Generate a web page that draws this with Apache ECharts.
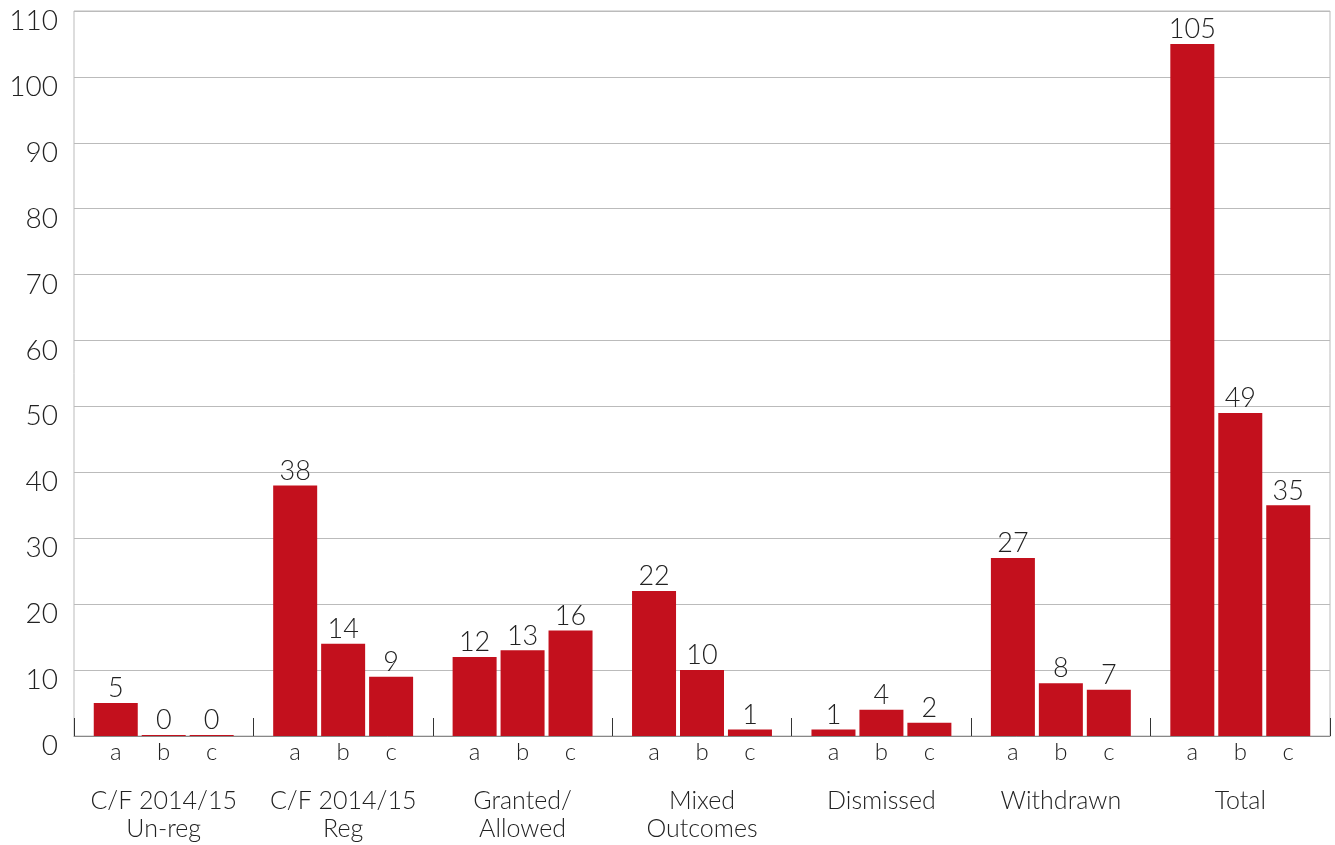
<!DOCTYPE html>
<html>
<head>
<meta charset="utf-8">
<script src="https://cdn.jsdelivr.net/npm/echarts@6/dist/echarts.min.js"></script>
<style>html,body{margin:0;padding:0;background:#fff;}#chart{width:1335px;height:845px;}</style>
</head>
<body>
<div id="chart"></div>
<script>
const categories = ['C/F 2014/15\nUn-reg', 'C/F 2014/15\nReg', 'Granted/\nAllowed', 'Mixed\nOutcomes', 'Dismissed', 'Withdrawn', 'Total'];
const subLabels = ['a', 'b', 'c'];
const seriesA = [5, 38, 12, 22, 1, 27, 105];
const seriesB = [0, 14, 13, 10, 4, 8, 49];
const seriesC = [0, 9, 16, 1, 2, 7, 35];
const yMin = 0, yMax = 110, yStep = 10;

const FONT = 'Lato, "Open Sans", sans-serif';
const RED = '#c3101d';
const TXT = '#222';
const values = [seriesA, seriesB, seriesC];

const series = [];
subLabels.forEach((lab, i) => {
  series.push({
    type: 'bar', stack: 's' + lab, name: lab + '-label',
    data: categories.map(() => 0),
    barWidth: 44, barGap: '9%',
    itemStyle: { color: 'rgba(0,0,0,0)' },
    label: { show: true, position: 'bottom', distance: 4, formatter: lab,
             fontFamily: FONT, fontWeight: 300, fontSize: 24, color: TXT },
    silent: true, z: 1
  });
  series.push({
    type: 'bar', stack: 's' + lab, name: lab,
    data: values[i],
    barWidth: 44, barGap: '9%', barMinHeight: 1,
    itemStyle: { color: RED },
    label: { show: true, position: 'top', distance: 1,
             fontFamily: FONT, fontWeight: 300, fontSize: 27, color: TXT },
    z: 2
  });
});

const chart = echarts.init(document.getElementById('chart'), null, { renderer: 'canvas' });
chart.setOption({
  animation: false,
  backgroundColor: '#fff',
  grid: { left: 74, right: 5, top: 11, bottom: 109, show: true, borderColor: '#bbb', borderWidth: 1,
          containLabel: false, outerBoundsMode: 'none' },
  xAxis: {
    type: 'category', data: categories,
    axisLine: { show: true, lineStyle: { color: '#888', width: 1 } },
    axisTick: { show: true, inside: true, length: 18, interval: 0, lineStyle: { color: '#333' } },
    axisLabel: { interval: 0, margin: 51, fontFamily: FONT, fontWeight: 300, fontSize: 25, lineHeight: 28, color: TXT },
    splitLine: { show: false }
  },
  yAxis: {
    type: 'value', min: yMin, max: yMax, interval: yStep,
    axisLine: { show: false }, axisTick: { show: false },
    splitLine: { show: true, lineStyle: { color: '#bbb', width: 1 } },
    axisLabel: { margin: 16, fontFamily: FONT, fontWeight: 300, fontSize: 28, color: TXT,
                 lineHeight: 20, verticalAlign: 'top' }
  },
  series: series
});
</script>
</body>
</html>
